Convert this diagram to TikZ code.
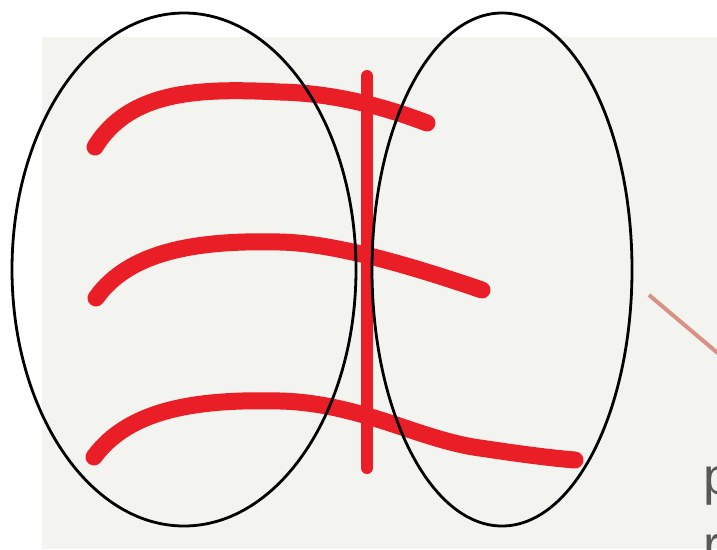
\documentclass[tikz,border=0pt]{standalone}
\usepackage{fontspec}
\setmainfont{Liberation Sans}
\usetikzlibrary{shapes.geometric}
\definecolor{paper}{RGB}{243,243,240}
\definecolor{marker}{RGB}{234,30,38}
\definecolor{pinkline}{RGB}{214,146,132}
\definecolor{txtgray}{RGB}{88,88,88}
\begin{document}
\begin{tikzpicture}[x=1pt,y=-1pt,
  oval/.style={draw=black,line width=2.8pt,ellipse,inner sep=0pt},
  crayon/.style={draw=marker,line width=17pt,line cap=round,line join=round},
  bar/.style={draw=marker,line width=12pt,line cap=round},
  pointer/.style={draw=pinkline,line width=4pt},
  label/.style={text=txtgray,font=\fontsize{52}{60}\selectfont,inner sep=0pt,anchor=base west}]
\useasboundingbox (0,0) rectangle (717,549);
\fill[white] (0,0) rectangle (717,549);
\fill[paper] (42,37) rectangle (717,549);
% red strokes
\draw[crayon] (95,147) .. controls (130,90) and (200,88) .. (280,92)
  .. controls (330,93) and (380,105) .. (427,123);
\draw[crayon] (96,298) .. controls (130,250) and (200,240) .. (280,242)
  .. controls (330,243) and (400,262) .. (482,290);
\draw[crayon] (94,457) .. controls (130,408) and (200,399) .. (280,401)
  .. controls (360,403) and (420,440) .. (480,448)
  .. controls (520,454) and (550,458) .. (575,460);
% vertical bar
\coordinate (bt) at (367,76);
\coordinate (bb) at (367,468);
\draw[bar] (bt) -- (bb);
% ellipses
\node[oval,minimum width=344pt,minimum height=513pt] (L) at (184,269.5) {};
\node[oval,minimum width=260pt,minimum height=513pt] (R) at (502,269.5) {};
% pointer line
\coordinate (ps) at (649,295);
\coordinate (pe) at (720,355);
\draw[pointer] (ps) -- (pe);
% text
\node[label] (tp) at (703,494) {p};
\node[label] (tr) at (703,562) {r};
\end{tikzpicture}
\end{document}
